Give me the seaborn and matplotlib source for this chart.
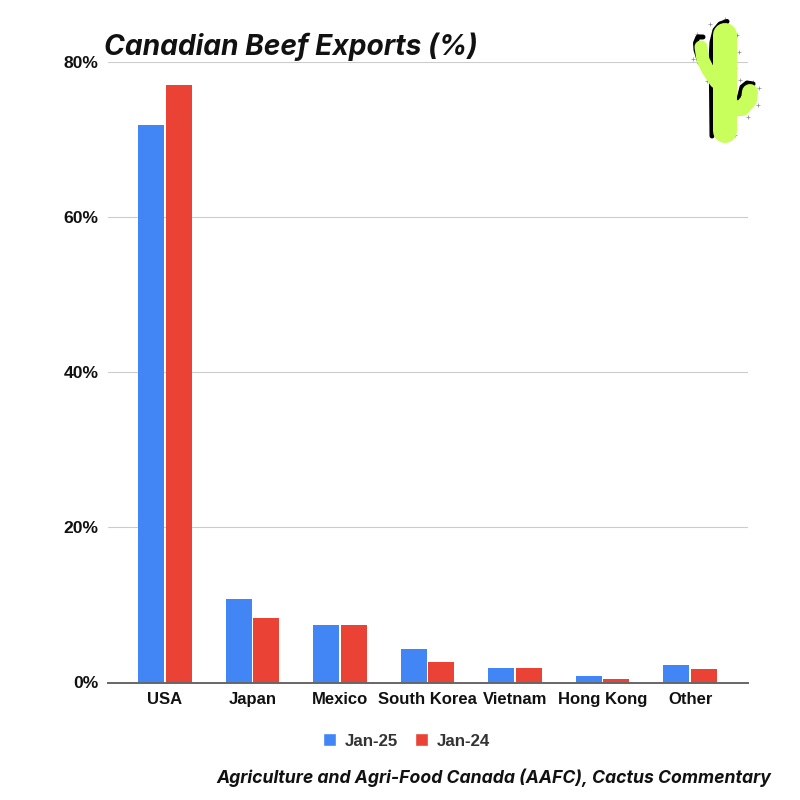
import matplotlib
matplotlib.use("Agg")
import matplotlib.pyplot as plt
import pandas as pd
import seaborn as sns
from matplotlib.patches import Patch

# --- Data ---
countries = ["USA", "Japan", "Mexico", "South Korea", "Vietnam", "Hong Kong", "Other"]
jan_25 = [71.9, 10.8, 7.4, 4.3, 1.9, 0.8, 2.3]
jan_24 = [77.0, 8.3, 7.4, 2.6, 1.9, 0.4, 1.7]
y_ticks = [0, 20, 40, 60, 80]
y_tick_labels = ["0%", "20%", "40%", "60%", "80%"]

BLUE = "#4285f4"
RED = "#ea4335"
LIME = "#c9ff5c"

df = pd.DataFrame({
    "Country": countries * 2,
    "Share": jan_25 + jan_24,
    "Month": ["Jan-25"] * len(countries) + ["Jan-24"] * len(countries),
})

sns.set_style("white")
plt.rcParams["font.family"] = ["Liberation Sans", "DejaVu Sans"]

fig = plt.figure(figsize=(8, 8), dpi=100)
ax = fig.add_axes([108 / 800, 1 - 682.5 / 800, 640 / 800, 620.5 / 800])

sns.barplot(data=df, x="Country", y="Share", hue="Month", order=countries,
            hue_order=["Jan-25", "Jan-24"], palette=[BLUE, RED],
            width=0.63, gap=0.06, saturation=1, legend=False, ax=ax, zorder=3,
            linewidth=0)

ax.set_xlim(-0.65, 6.66)
ax.set_ylim(0, 80)
ax.set_yticks(y_ticks)
ax.set_yticklabels(y_tick_labels, fontsize=12.6, fontweight="bold", color="#111111")
ax.set_xticks(range(len(countries)))
ax.set_xticklabels(countries, fontsize=12, fontweight="bold", color="#111111")
ax.set_xlabel("")
ax.set_ylabel("")
ax.tick_params(axis="both", length=0)
ax.tick_params(axis="x", pad=7)
ax.tick_params(axis="y", pad=7)
ax.grid(axis="y", color="#cccccc", linewidth=0.8, zorder=0)
ax.set_axisbelow(True)
for side in ["top", "right", "left"]:
    ax.spines[side].set_visible(False)
ax.spines["bottom"].set_color("#666666")
ax.spines["bottom"].set_linewidth(1.4)
ax.spines["bottom"].set_zorder(5)

handles = [Patch(facecolor=BLUE, label="Jan-25"), Patch(facecolor=RED, label="Jan-24")]
fig.legend(handles=handles, loc="center", bbox_to_anchor=(406.5 / 800, 1 - 741 / 800),
           ncol=2, frameon=False, handlelength=0.78, handleheight=0.78, handletextpad=0.55,
           columnspacing=0.95, prop={"size": 12.2, "weight": "bold"}, labelcolor="#333333")

fig.text(104 / 800, 1 - 55 / 800, "Canadian Beef Exports (%)", fontsize=20.3, fontweight="bold",
         fontstyle="italic", family=["Inter", "DejaVu Sans"], color="#111111",
         ha="left", va="baseline")
fig.text(771 / 800, 1 - 783 / 800, "Agriculture and Agri-Food Canada (AAFC), Cactus Commentary",
         fontsize=12.7, fontweight="bold", fontstyle="italic",
         family=["Inter", "DejaVu Sans"], color="#111111", ha="right", va="baseline")

# --- Cactus logo, overlay axes in pixel coordinates ---
logo = fig.add_axes([0, 0, 1, 1], facecolor="none")
logo.set_xlim(0, 800)
logo.set_ylim(800, 0)
logo.axis("off")


def stroke(xs, ys, width_px, color):
    logo.plot(xs, ys, color=color, lw=width_px * 0.72,
              solid_capstyle="round", solid_joinstyle="round")


# black outline pieces
stroke([712, 711.5, 711, 712, 715, 720, 727], [136, 85, 60, 42, 30, 24, 21.5], 5, "black")
stroke([700, 696, 695.5, 698, 703], [63, 50, 43, 37, 37], 5, "black")
stroke([733, 739, 742, 747, 753], [106, 99, 87, 83, 84], 5, "black")

# lime body on top
stroke([701, 703, 708, 716], [47, 60, 70, 82], 13, LIME)
stroke([730, 742, 749, 750], [108.5, 108, 100, 92], 16, LIME)
stroke([725, 725], [35, 131], 24, LIME)

# little spines
spine_x = [710, 725, 697, 737, 739, 735, 693, 707, 740, 753, 759, 758, 748, 735, 712, 712, 712]
spine_y = [24, 19, 34, 35, 52, 68, 59, 81, 80, 82, 88, 105, 117, 135, 107, 118, 130]
logo.scatter(spine_x, spine_y, marker="+", s=7, color="#888888", linewidths=0.5)

fig.savefig("out.png", dpi=100, facecolor="white")
